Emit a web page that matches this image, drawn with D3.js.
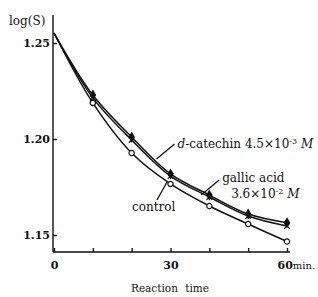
<!DOCTYPE html>
<html>
<script src="https://d3js.org/d3.v7.min.js"></script>
<style>
    body { margin: 0; background: #fff; }
    svg text { font-family: "DejaVu Serif", "Liberation Serif", "Times New Roman", serif; fill: #111; }
    .tick text { font-weight: bold; font-size: 11px; }
    .axis path, .axis line { stroke: #111; stroke-width: 1.4; }
</style>
<body>
<svg width=318 height=297></svg>
<script>
    // reaction time (min)
    var times = [0, 10, 20, 30, 40, 50, 60];
    var control = [1.2552, 1.2188, 1.1927, 1.1766, 1.1651, 1.1557, 1.1466];
    var catechin = [1.2552, 1.2229, 1.2010, 1.1818, 1.1708, 1.1609, 1.1564];
    var gallic = [1.2552, 1.2214, 1.1995, 1.1807, 1.1698, 1.1599, 1.1547];
    var xTicks = [0, 10, 20, 30, 40, 50, 60];
    var yTicks = [1.15, 1.20, 1.25];

    var serif = '"DejaVu Serif", "Liberation Serif", "Times New Roman", serif';
    var svg = d3.select('svg').attr('font-family', serif);

    var x = d3.scaleLinear().domain([0, 60]).range([54, 287]);
    var y = d3.scaleLinear().domain([1.15, 1.25]).range([235, 43]);

    // axes
    svg.append('g').attr('class', 'axis')
        .attr('transform', 'translate(0,252)')
        .call(d3.axisBottom(x).tickValues(xTicks).tickSize(-4).tickSizeOuter(0)
            .tickFormat(function (d) { return (d % 30 == 0) ? d : ''; }))
        .call(function (g) {
            g.attr('font-family', serif);
            g.select('.domain').attr('d', 'M53,0H290');
            g.selectAll('.tick text').attr('dy', '1.3em');
            var last = g.selectAll('.tick').filter(function (d) { return d == 60; }).select('text')
                .text('60').attr('text-anchor', 'start').attr('x', -10);
            last.append('tspan').attr('font-size', 10).attr('font-weight', 'normal').text('min.');
        });

    svg.append('g').attr('class', 'axis')
        .attr('transform', 'translate(53,0)')
        .call(d3.axisLeft(y).tickValues(yTicks).tickSize(-4).tickSizeOuter(0)
            .tickFormat(d3.format('.2f')))
        .call(function (g) {
            g.attr('font-family', serif);
            g.select('.domain').attr('d', 'M0,15V252');
            g.selectAll('.tick text').attr('x', -3);
        });

    svg.append('text').attr('x', 9).attr('y', 25).attr('font-size', 12).text('log(S)');
    svg.append('text').attr('x', 170).attr('y', 292).attr('font-size', 10.5)
        .attr('text-anchor', 'middle').attr('word-spacing', 4).text('Reaction time');

    // curves
    var series = [
        { name: 'control', vals: control, sym: d3.symbolCircle, fill: '#fff', size: 22 },
        { name: 'gallic', vals: gallic, sym: d3.symbolX, fill: 'none', size: 22 },
        { name: 'catechin', vals: catechin, sym: d3.symbolDiamond, fill: '#111', size: 22 }
    ];

    var line = d3.line()
        .x(function (d, i) { return x(times[i]); })
        .y(function (d) { return y(d); })
        .curve(d3.curveCatmullRom);

    series.forEach(function (s) {
        svg.append('path')
            .attr('d', line(s.vals))
            .attr('fill', 'none')
            .attr('stroke', '#111')
            .attr('stroke-width', 1.5);
    });

    series.forEach(function (s) {
        svg.append('g').selectAll('path')
            .data(s.vals.slice(1))
            .enter()
            .append('path')
            .attr('transform', function (d, i) { return 'translate(' + x(times[i + 1]) + ',' + y(d) + ')'; })
            .attr('d', d3.symbol().type(s.sym).size(s.size))
            .attr('fill', s.fill)
            .attr('stroke', '#111')
            .attr('stroke-width', 1.2);
    });

    // labels with leader lines
    var notes = [
        { t: 26.4, v: 1.1896, lx: 18, ly: -15, lines: [['d', '-catechin  4.5×10', '-3', ' M']], tx: [21], ty: [-11] },
        { t: 37.9, v: 1.1708, lx: 18, ly: -15, lines: [['', 'gallic  acid'], ['', '3.6×10', '-2', ' M']], tx: [21, 30], ty: [-13, 3] },
        { t: 29.1, v: 1.1776, lx: -10, ly: 18, lines: [['', 'control']], tx: [-35], ty: [29] }
    ];

    notes.forEach(function (n) {
        var px = x(n.t), py = y(n.v);
        svg.append('line')
            .attr('x1', px).attr('y1', py)
            .attr('x2', px + n.lx).attr('y2', py + n.ly)
            .attr('stroke', '#111').attr('stroke-width', 1.3);
        n.lines.forEach(function (parts, k) {
            var t = svg.append('text')
                .attr('x', px + n.tx[k]).attr('y', py + n.ty[k])
                .attr('font-size', 12);
            if (parts[0]) t.append('tspan').attr('font-style', 'italic').text(parts[0]);
            t.append('tspan').text(parts[1]);
            if (parts[2]) {
                t.append('tspan').attr('font-size', 8).attr('dy', -4).text(parts[2]);
                t.append('tspan').attr('dy', 4).attr('font-style', 'italic').text(parts[3]);
            }
        });
    });
</script>
</body>
</html>
